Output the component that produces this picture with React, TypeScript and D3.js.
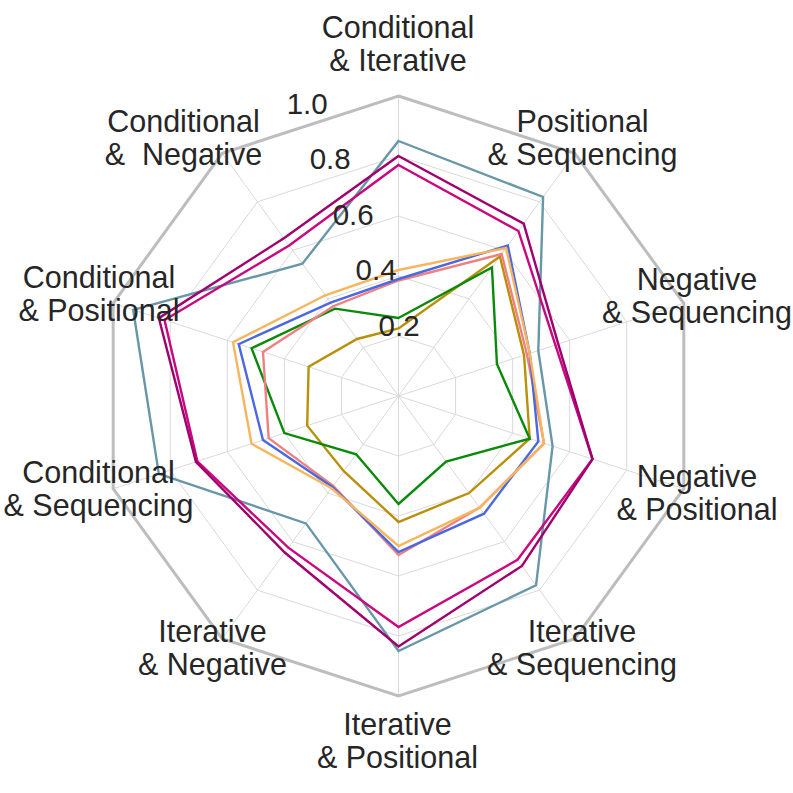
import React from "react";
import * as d3 from "d3";

const categories: string[][] = [
  ["Conditional", "& Iterative"],
  ["Positional", "& Sequencing"],
  ["Negative", "& Sequencing"],
  ["Negative", "& Positional"],
  ["Iterative", "& Sequencing"],
  ["Iterative", "& Positional"],
  ["Iterative", "& Negative"],
  ["Conditional", "& Sequencing"],
  ["Conditional", "& Positional"],
  ["Conditional", "&  Negative"],
];

const radialTicks = [0.2, 0.4, 0.6, 0.8, 1.0];
const radialTickLabels = ["0.2", "0.4", "0.6", "0.8", "1.0"];

const seriesSteel = [0.85, 0.82, 0.49, 0.54, 0.78, 0.85, 0.525, 0.84, 0.93, 0.545];
const seriesDarkMagenta = [0.8, 0.71, 0.56, 0.68, 0.7, 0.835, 0.645, 0.71, 0.84, 0.65];
const seriesPinkMagenta = [0.77, 0.68, 0.55, 0.68, 0.675, 0.77, 0.625, 0.705, 0.82, 0.62];
const seriesBlue = [0.39, 0.62, 0.46, 0.49, 0.485, 0.52, 0.375, 0.475, 0.56, 0.385];
const seriesSalmon = [0.385, 0.585, 0.45, 0.51, 0.46, 0.53, 0.37, 0.455, 0.475, 0.37];
const seriesOrange = [0.42, 0.61, 0.46, 0.51, 0.46, 0.5, 0.38, 0.515, 0.58, 0.415];
const seriesGreen = [0.26, 0.53, 0.345, 0.46, 0.27, 0.36, 0.24, 0.4, 0.515, 0.36];
const seriesOlive = [0.225, 0.575, 0.44, 0.46, 0.4, 0.42, 0.31, 0.32, 0.315, 0.235];

const seriesList = [
  { values: seriesOlive, color: "#b8900a" },
  { values: seriesGreen, color: "#0a8a0a" },
  { values: seriesSalmon, color: "#f08080" },
  { values: seriesBlue, color: "#4a68e0" },
  { values: seriesOrange, color: "#f7b55e" },
  { values: seriesSteel, color: "#6897a8" },
  { values: seriesPinkMagenta, color: "#c8087e" },
  { values: seriesDarkMagenta, color: "#a0006e" },
];

// layout (page coords)
const CX = 398.5;
const CY = 396;
const R = 300;
const FONT = "'Liberation Sans', Arial, Helvetica, sans-serif";
const FS = 30.5;
const FS_R = 29.5;
const LINE_GAP = 33;
// label block: [center x, first baseline]
const labelPos: [number, number][] = [
  [398, 38],
  [582.5, 132],
  [697, 290],
  [697, 487],
  [582, 642],
  [397.5, 735],
  [212.5, 642],
  [98.5, 483],
  [99, 288],
  [183.5, 132],
];

export default function App() {
  const n = categories.length;
  const r = d3.scaleLinear().domain([0, 1]).range([0, R]);
  const angle = d3
    .scaleLinear()
    .domain([0, n])
    .range([0, 2 * Math.PI]);

  const radial = d3
    .lineRadial<number>()
    .angle((_, i) => angle(i))
    .radius((d) => r(d))
    .curve(d3.curveLinearClosed);

  const ring = (v: number) => radial(d3.range(n).map(() => v)) || "";

  const rlabelAngle = (-22.5 * Math.PI) / 180;

  return (
    <svg
      width={793}
      height={793}
      style={{ position: "absolute", left: 0, top: 0, background: "#fff" }}
    >
      <g transform={`translate(${CX},${CY})`}>
        {d3.range(n).map((i) => {
          const a = angle(i);
          return (
            <line
              key={"sp" + i}
              x1={0}
              y1={0}
              x2={r(1) * Math.sin(a)}
              y2={-r(1) * Math.cos(a)}
              stroke="#d9d9d9"
              strokeWidth={1}
            />
          );
        })}
        {radialTicks.slice(0, -1).map((t) => (
          <path key={"g" + t} d={ring(t)} fill="none" stroke="#d9d9d9" strokeWidth={1} />
        ))}
        <path d={ring(1)} fill="none" stroke="#bdbdbd" strokeWidth={3} />
        {seriesList.map((s, k) => (
          <path
            key={"s" + k}
            d={radial(s.values) || ""}
            fill="none"
            stroke={s.color}
            strokeWidth={2.4}
            strokeLinejoin="miter"
          />
        ))}
        {radialTicks.map((t, i) => (
          <text
            key={"rt" + t}
            x={r(t) * Math.sin(rlabelAngle) + 3}
            y={-r(t) * Math.cos(rlabelAngle) - 5}
            fontFamily={FONT}
            fontSize={FS_R}
            fill="#262626"
            textAnchor="start"
          >
            {radialTickLabels[i]}
          </text>
        ))}
      </g>
      {categories.map((lines, i) => (
        <text
          key={"c" + i}
          fontFamily={FONT}
          fontSize={FS}
          fill="#262626"
          textAnchor="middle"
          style={{ whiteSpace: "pre" }}
        >
          {lines.map((ln, j) => (
            <tspan key={j} x={labelPos[i][0]} y={labelPos[i][1] + j * LINE_GAP}>
              {ln}
            </tspan>
          ))}
        </text>
      ))}
    </svg>
  );
}
